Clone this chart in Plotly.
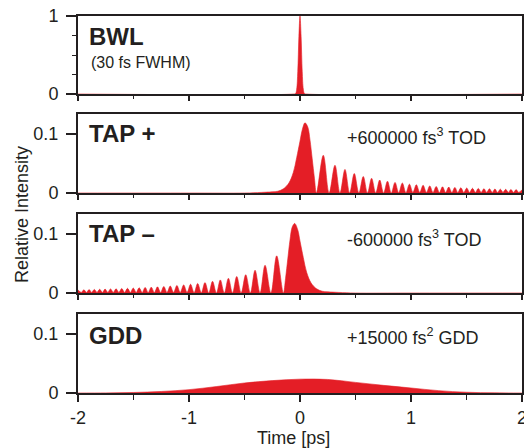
import plotly.graph_objects as go

# ---------------- data ----------------
bwl_t = [-2.0, -0.06, -0.04, -0.03, -0.02, -0.01, 0.0, 0.01, 0.02, 0.03, 0.04, 0.06, 2.0]
bwl_i = [0.0, 0.0, 0.007, 0.062, 0.29, 0.735, 1.0, 0.735, 0.29, 0.062, 0.007, 0.0, 0.0]

tap_plus_t = [-2.0, -1.0, -0.5, -0.35, -0.25, -0.2, -0.15, -0.1, -0.06, -0.03, 0.0, 0.02, 0.045,
              0.07, 0.09, 0.11, 0.13, 0.148,
              0.21, 0.262, 0.315, 0.36, 0.405, 0.447, 0.489, 0.53, 0.57, 0.608, 0.645, 0.682,
              0.718, 0.753, 0.788, 0.822, 0.856, 0.889, 0.922, 0.954, 0.986, 1.017, 1.048, 1.079,
              1.109, 1.139, 1.169, 1.198, 1.227, 1.256, 1.284, 1.312, 1.34, 1.368, 1.395, 1.422,
              1.449, 1.476, 1.502, 1.528, 1.554, 1.58, 1.606, 1.632, 1.657, 1.682, 1.707, 1.732,
              1.756, 1.78, 1.805, 1.829, 1.853, 1.877, 1.90, 1.924, 1.947, 1.97, 2.0]
tap_plus_i = [0.0, 0.0, 0.0, 0.001, 0.002, 0.003, 0.007, 0.017, 0.035, 0.06, 0.088, 0.107, 0.119,
              0.112, 0.09, 0.058, 0.025, 0.0,
              0.064, 0.0, 0.047, 0.0, 0.040, 0.0, 0.033, 0.0, 0.028, 0.0, 0.025, 0.0,
              0.022, 0.0, 0.020, 0.0, 0.018, 0.0005, 0.017, 0.0005, 0.015, 0.001, 0.014, 0.001,
              0.013, 0.001, 0.012, 0.001, 0.011, 0.001, 0.0105, 0.001, 0.010, 0.001, 0.0095, 0.001,
              0.009, 0.001, 0.0085, 0.001, 0.008, 0.001, 0.0077, 0.001, 0.0074, 0.001, 0.0071, 0.001,
              0.0068, 0.001, 0.0065, 0.001, 0.0062, 0.001, 0.006, 0.001, 0.0058, 0.001, 0.0056]

tap_minus_t = [-2.0, -1.97, -1.947, -1.924, -1.90, -1.877, -1.853, -1.829, -1.805, -1.78, -1.756,
               -1.732, -1.707, -1.682, -1.657, -1.632, -1.606, -1.58, -1.554, -1.528, -1.502,
               -1.476, -1.449, -1.422, -1.395, -1.368, -1.34, -1.312, -1.284, -1.256, -1.227,
               -1.198, -1.169, -1.139, -1.109, -1.079, -1.048, -1.017, -0.986, -0.954, -0.922,
               -0.889, -0.856, -0.822, -0.788, -0.753, -0.718, -0.682, -0.645, -0.608, -0.57,
               -0.53, -0.489, -0.447, -0.405, -0.36, -0.315, -0.262, -0.21,
               -0.15, -0.13, -0.11, -0.09, -0.07, -0.048, -0.02, 0.0, 0.03, 0.06, 0.1, 0.15,
               0.2, 0.25, 0.35, 0.5, 1.0, 2.0]
tap_minus_i = [0.0052, 0.001, 0.0055, 0.001, 0.0058, 0.001, 0.006, 0.001, 0.0063, 0.001, 0.0066,
               0.001, 0.0069, 0.001, 0.0072, 0.001, 0.0075, 0.001, 0.0079, 0.001, 0.0084,
               0.001, 0.0089, 0.001, 0.0094, 0.001, 0.0099, 0.001, 0.0104, 0.001, 0.011,
               0.001, 0.0118, 0.001, 0.0127, 0.001, 0.0137, 0.001, 0.0148, 0.0005, 0.0162,
               0.0005, 0.0178, 0.0, 0.0198, 0.0, 0.0222, 0.0, 0.025, 0.0, 0.028,
               0.0, 0.031, 0.0, 0.0385, 0.0, 0.047, 0.0, 0.063,
               0.0, 0.025, 0.058, 0.09, 0.112, 0.118, 0.107, 0.088, 0.06, 0.035, 0.017, 0.007,
               0.003, 0.002, 0.001, 0.0, 0.0, 0.0]

gdd_t = [-2.0, -1.75, -1.5, -1.25, -1.0, -0.75, -0.5, -0.25, 0.0, 0.25, 0.5, 0.75, 1.0, 1.25, 1.5, 1.75, 2.0]
gdd_i = [0.0, 0.0002, 0.0009, 0.0026, 0.0057, 0.011, 0.017, 0.021, 0.0235, 0.023, 0.018, 0.013,
         0.0085, 0.004, 0.0013, 0.0003, 0.0]

panel_titles = ["BWL", "TAP +", "TAP \u2013", "GDD"]
panel_notes = ["", "+600000 fs<sup>3</sup> TOD", "-600000 fs<sup>3</sup> TOD", "+15000 fs<sup>2</sup> GDD"]
x_tick_vals = [-2, -1, 0, 1, 2]
x_tick_text = ["-2", "-1", "0", "1", "2"]
x_minor_vals = [-1.5, -0.5, 0.5, 1.5]

# ---------------- styling ----------------
RED = "#e41e26"
INK = "#231f20"
FONT = "Liberation Sans, Arial, sans-serif"

series = [(bwl_t, bwl_i), (tap_plus_t, tap_plus_i), (tap_minus_t, tap_minus_i), (gdd_t, gdd_i)]

# pixel layout: plot area from y=16 (top) to y=393 (bottom), total 377 px
top_px, bot_px = 16, 393
H = bot_px - top_px
panel_px = [(16, 94), (114, 193), (214, 293), (314, 393)]
domains = [[(bot_px - b) / H, (bot_px - t) / H] for (t, b) in panel_px]
yranges = [[0, 1], [0, 0.134], [0, 0.134], [0, 0.134]]

fig = go.Figure()
layout = dict(
    width=524, height=448,
    margin=dict(l=78, r=2, t=16, b=55, autoexpand=False),
    paper_bgcolor="white", plot_bgcolor="white",
    showlegend=False,
    font=dict(family=FONT, size=18, color=INK),
)
annotations = []

for i, (t, inten) in enumerate(series):
    n = i + 1
    sfx = "" if n == 1 else str(n)
    fig.add_trace(go.Scatter(
        x=t, y=inten, xaxis="x" + sfx, yaxis="y" + sfx,
        mode="lines", fill="tozeroy", fillcolor=RED,
        line=dict(color=RED, width=0.6, shape="spline", smoothing=1.0),
        hoverinfo="skip",
    ))
    last = (n == 4)
    layout["xaxis" + sfx] = dict(
        domain=[0, 1], anchor="y" + sfx, range=[-2, 2],
        showline=True, mirror=True, linecolor=INK, linewidth=2,
        showgrid=False, zeroline=False, automargin=False,
        tickmode="array", tickvals=x_tick_vals, ticktext=x_tick_text,
        ticks="outside", ticklen=7 if last else 5, tickwidth=1.6, tickcolor=INK,
        showticklabels=last, ticklabeloverflow="allow",
        tickfont=dict(size=18, family=FONT, color=INK),
        minor=dict(tickmode="array", tickvals=x_minor_vals, ticks="outside",
                   ticklen=5 if last else 3, tickwidth=1.4, tickcolor=INK),
    )
    if n == 1:
        yt, ytt, ymin = [0, 1], ["0", "1"], [0.25, 0.5, 0.75]
    else:
        yt, ytt, ymin = [0, 0.1], ["0", "0.1"], []
    layout["yaxis" + sfx] = dict(
        domain=domains[i], anchor="x" + sfx, range=yranges[i],
        showline=True, mirror=True, linecolor=INK, linewidth=2,
        showgrid=False, zeroline=False, automargin=False,
        tickmode="array", tickvals=yt, ticktext=ytt,
        ticks="outside", ticklen=10, tickwidth=1.6, tickcolor=INK,
        ticklabelstandoff=4, ticklabeloverflow="allow",
        tickfont=dict(size=18, family=FONT, color=INK),
        minor=dict(tickmode="array", tickvals=ymin, ticks="outside",
                   ticklen=4, tickwidth=1.4, tickcolor=INK),
    )
    ypos_title = [0.74, 0.747, 0.747, 0.734][i]
    annotations.append(dict(
        text="<b>" + panel_titles[i] + "</b>", xref="x" + sfx + " domain", yref="y" + sfx + " domain",
        x=(87 - 78) / 444, y=ypos_title, xanchor="left", yanchor="middle", showarrow=False,
        font=dict(size=24, family=FONT, color=INK),
    ))
    if panel_notes[i]:
        ypos_note = [0, 0.709, 0.696, 0.709][i]
        annotations.append(dict(
            text=panel_notes[i], xref="x" + sfx + " domain", yref="y" + sfx + " domain",
            x=(345 - 78) / 444, y=ypos_note, xanchor="left", yanchor="middle", showarrow=False,
            font=dict(size=18, family=FONT, color=INK),
        ))

annotations.append(dict(
    text="(30 fs FWHM)", xref="x domain", yref="y domain",
    x=(89 - 78) / 444, y=0.41, xanchor="left", yanchor="middle", showarrow=False,
    font=dict(size=16, family=FONT, color=INK),
))
annotations.append(dict(
    text="Time [ps]", xref="paper", yref="paper",
    x=(293.5 - 78) / 444, y=-(438 - bot_px) / H, xanchor="center", yanchor="middle",
    showarrow=False, font=dict(size=18, family=FONT, color=INK),
))
annotations.append(dict(
    text="Relative Intensity", xref="paper", yref="paper",
    x=(22 - 78) / 444, y=(bot_px - 215) / H, xanchor="center", yanchor="middle",
    textangle=-90, showarrow=False, font=dict(size=18, family=FONT, color=INK),
))
layout["annotations"] = annotations
fig.update_layout(**layout)
fig.write_html(
    "out.html",
    config={"displayModeBar": False},
    post_script="document.body.style.margin='0';document.body.style.padding='0';"
                "document.documentElement.style.overflow='hidden';",
)
